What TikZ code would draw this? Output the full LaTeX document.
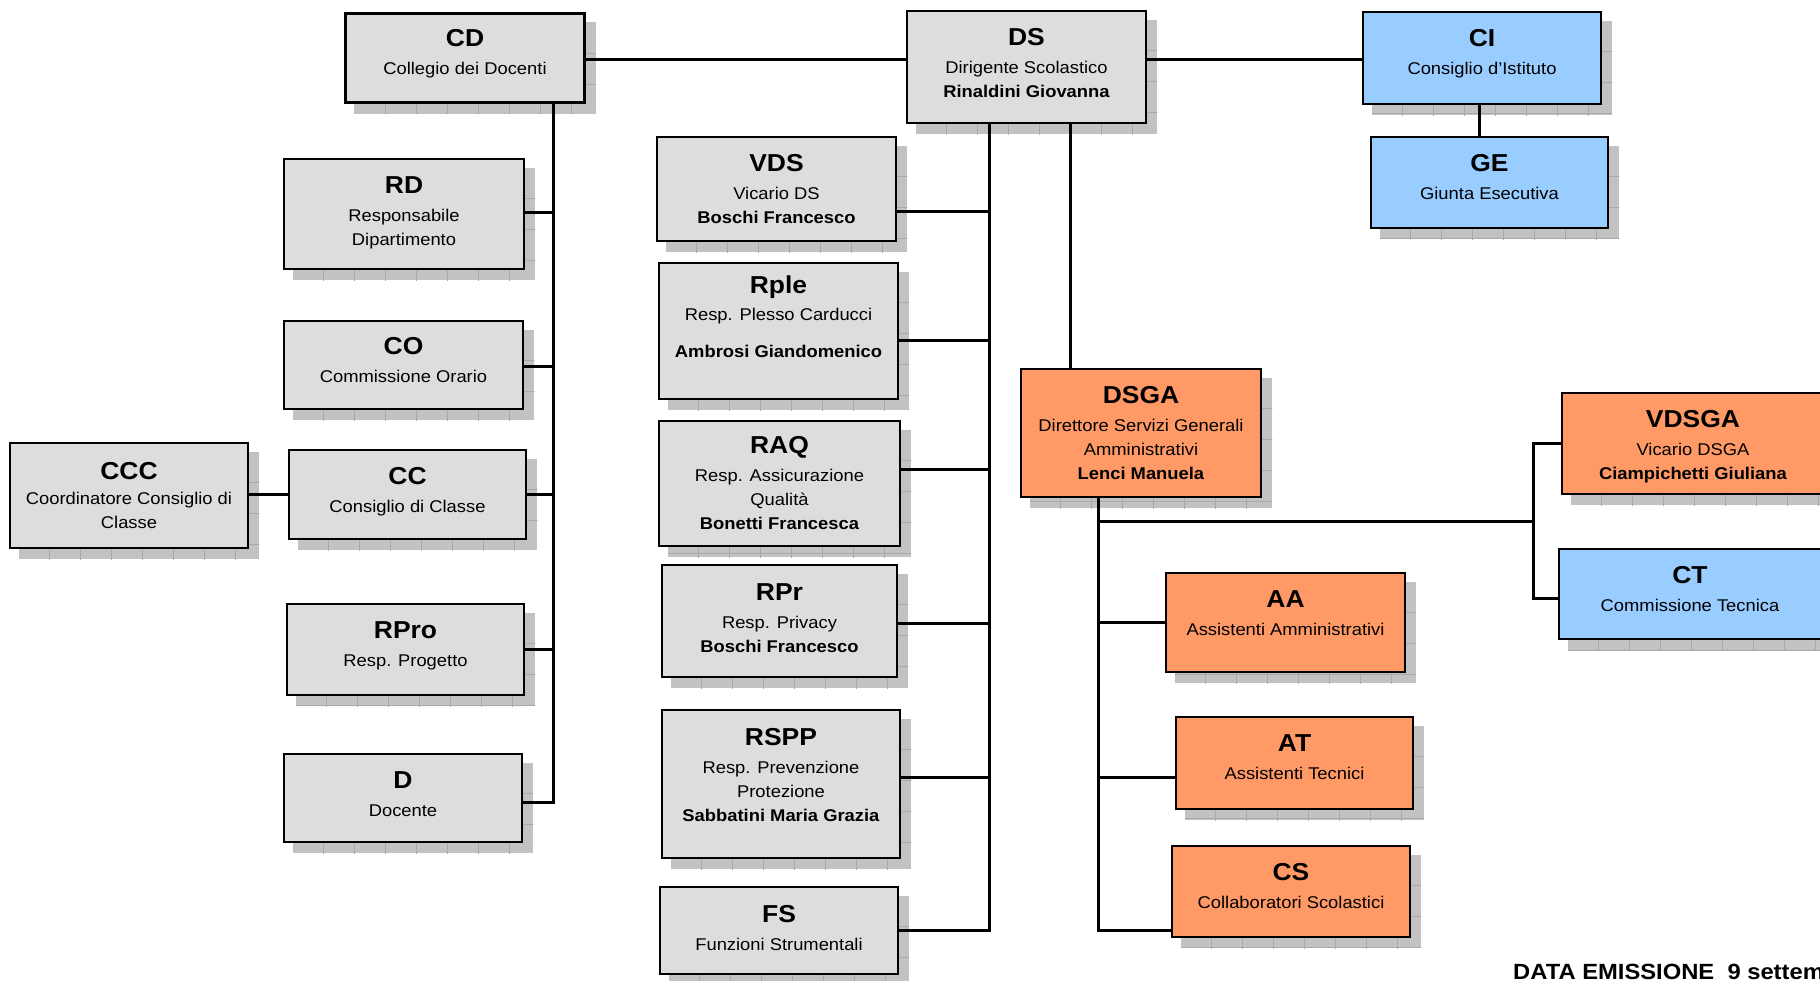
\documentclass[tikz,border=0pt]{standalone}
\usepackage{fontspec}
\setmainfont{Liberation Sans}[FakeStretch=1.08]
\pgfdeclarelayer{bg}
\pgfsetlayers{bg,main}
\definecolor{boxgray}{HTML}{DDDDDD}
\definecolor{boxblue}{HTML}{99CCFF}
\definecolor{boxorange}{HTML}{FF9966}
\definecolor{shadowfill}{HTML}{C2C2C2}
\definecolor{shadowline}{HTML}{A9A9A9}
\newcommand{\orgttl}[2][4pt]{{\fontsize{24.5}{24}\selectfont\bfseries #2}\\[#1]}
\newcommand{\orgend}[1]{\\[#1pt]\mbox{}}
\newcommand{\orgtop}[1]{\mbox{}\\[#1pt]}
\begin{document}
\begin{tikzpicture}[x=1pt,y=-1pt,
  orgbox/.style={draw=black, line width=2.5pt, inner sep=0pt, align=center,
    font=\fontsize{17}{24}\selectfont, text=black},
  graybox/.style={orgbox, fill=boxgray},
  bluebox/.style={orgbox, fill=boxblue},
  orangebox/.style={orgbox, fill=boxorange},
  conn/.style={draw=black, line width=3pt, line cap=rect},
  shadowgrid/.style={draw=shadowline, line width=0.8pt}]
\useasboundingbox (0,0) rectangle (1820,981);

% ---- top row
\node[graybox, minimum width=239pt, minimum height=89pt] (CD) at (465,58) {\orgttl{CD}Collegio dei Docenti\orgend{-11.4}};
\node[graybox, minimum width=239pt, minimum height=112pt] (DS) at (1026.5,67) {\orgttl{DS}Dirigente Scolastico\\\textbf{Rinaldini Giovanna}\orgend{-15}};
\node[bluebox, minimum width=238pt, minimum height=92pt] (CI) at (1482,58) {\orgttl{CI}Consiglio d’Istituto\orgend{-11.8}};
\node[bluebox, minimum width=237pt, minimum height=91pt] (GE) at (1489.5,182.5) {\orgttl{GE}Giunta Esecutiva\orgend{-12.8}};

% ---- left column
\node[graybox, minimum width=240pt, minimum height=110pt] (RD) at (404,214) {\orgttl{RD}Responsabile\\Dipartimento\orgend{-18.5}};
\node[graybox, minimum width=239pt, minimum height=88pt] (CO) at (403.5,365) {\orgttl{CO}Commissione Orario\orgend{-13.4}};
\node[graybox, minimum width=237pt, minimum height=89pt] (CC) at (407.5,494.5) {\orgttl{CC}Consiglio di Classe\orgend{-14.4}};
\node[graybox, minimum width=238pt, minimum height=105pt] (CCC) at (129,495.5) {\orgttl[1pt]{CCC}Coordinatore Consiglio di\\Classe};
\node[graybox, minimum width=237pt, minimum height=91pt] (RPro) at (405.5,649.5) {\orgttl{RPro}Resp. Progetto\orgend{-14}};
\node[graybox, minimum width=238pt, minimum height=88pt] (D) at (403,798) {\orgttl{D}Docente\orgend{-16.4}};

% ---- middle column
\node[graybox, minimum width=239pt, minimum height=104pt] (VDS) at (776.5,189) {\orgttl{VDS}Vicario DS\\\textbf{Boschi Francesco}};
\node[graybox, minimum width=239pt, minimum height=136pt] (Rple) at (778.5,331) {\orgttl[3pt]{Rple}Resp. Plesso Carducci\\[13pt]\textbf{Ambrosi Giandomenico}\orgend{5}};
\node[graybox, minimum width=241pt, minimum height=125pt] (RAQ) at (779.5,483.5) {\orgttl{RAQ}Resp. Assicurazione\\Qualità\\\textbf{Bonetti Francesca}};
\node[graybox, minimum width=235pt, minimum height=112pt] (RPr) at (779.5,621) {\orgttl{RPr}Resp. Privacy\\\textbf{Boschi Francesco}\orgend{-17.4}};
\node[graybox, minimum width=238pt, minimum height=148pt] (RSPP) at (781,784) {\orgttl{RSPP}Resp. Prevenzione\\Protezione\\\textbf{Sabbatini Maria Grazia}\orgend{-5.4}};
\node[graybox, minimum width=238pt, minimum height=87pt] (FS) at (779,930.5) {\orgttl{FS}Funzioni Strumentali\orgend{-19.4}};

% ---- right part
\node[orangebox, minimum width=240pt, minimum height=128pt] (DSGA) at (1141,433) {\orgttl{DSGA}Direttore Servizi Generali\\Amministrativi\\\textbf{Lenci Manuela}};
\node[orangebox, minimum width=262pt, minimum height=101pt] (VDSGA) at (1693,443.5) {\orgtop{-0.4}\orgttl{VDSGA}Vicario DSGA\\\textbf{Ciampichetti Giuliana}};
\node[bluebox, minimum width=262pt, minimum height=90pt] (CT) at (1690,594) {\orgttl{CT}Commissione Tecnica\orgend{-13.4}};
\node[orangebox, minimum width=239pt, minimum height=99pt] (AA) at (1285.5,622.5) {\orgttl{AA}Assistenti Amministrativi\orgend{-5.8}};
\node[orangebox, minimum width=237pt, minimum height=92pt] (AT) at (1294.5,763) {\orgttl{AT}Assistenti Tecnici\orgend{-11.8}};
\node[orangebox, minimum width=238pt, minimum height=91pt] (CS) at (1291,891.5) {\orgttl{CS}Collaboratori Scolastici\orgend{-12.4}};

\node[anchor=base west, inner sep=0pt, font=\fontsize{22}{22}\selectfont\bfseries] (date) at (1513,979) {DATA EMISSIONE\ \ 9 settembre};

% ---- shadows
\begin{pgfonlayer}{bg}
\foreach \n in {CD,DS,CI,GE,RD,CO,CC,CCC,RPro,D,VDS,Rple,RAQ,RPr,RSPP,FS,DSGA,VDSGA,CT,AA,AT,CS}{
  \path ([shift={(10,10)}]\n.north west) coordinate (s1)
        ([shift={(10,10)}]\n.south east) coordinate (s2);
  \fill[shadowfill] (s1) rectangle (s2);
  \begin{scope}
    \clip (s1) rectangle (s2);
    \foreach \k in {1,...,9} \draw[shadowgrid] ([xshift=\k*31pt]s1) -- ++(0,200);
    \foreach \k in {1,...,5} \draw[shadowgrid] ([yshift=-\k*31pt]s1) -- ++(300,0);
  \end{scope}
}
\end{pgfonlayer}

% ---- bus coordinates
\coordinate (ytop) at (0,60);
\coordinate (cdbus) at (553,0);
\coordinate (dsbusL) at (989,0);
\coordinate (dsbusR) at (1070,0);
\coordinate (cige) at (1479,0);
\coordinate (dsgabus) at (1098,0);
\coordinate (rjoin) at (1533,521);

% ---- connectors
\draw[conn] (CD.east |- ytop) -- (DS.west |- ytop);
\draw[conn] (DS.east |- ytop) -- (CI.west |- ytop);
\draw[conn] (CI.south -| cige) -- (GE.north -| cige);

% CD bus
\draw[conn] (CD.south -| cdbus) -- ([yshift=-4pt]D.east -| cdbus) -- ([yshift=-4pt]D.east);
\draw[conn] ([yshift=1pt]RD.east) -- ([yshift=1pt]RD.east -| cdbus);
\draw[conn] ([yshift=-2pt]CO.east) -- ([yshift=-2pt]CO.east -| cdbus);
\draw[conn] (CC.east) -- (CC.east -| cdbus);
\draw[conn] (RPro.east) -- (RPro.east -| cdbus);
\draw[conn] (CCC.east |- CC.west) -- (CC.west);

% DS left bus
\draw[conn] (DS.south -| dsbusL) -- (FS.east -| dsbusL) -- (FS.east);
\draw[conn] ([yshift=-23pt]VDS.east) -- ([yshift=-23pt]VDS.east -| dsbusL);
\draw[conn] ([yshift=-10pt]Rple.east) -- ([yshift=-10pt]Rple.east -| dsbusL);
\draw[conn] ([yshift=14.5pt]RAQ.east) -- ([yshift=14.5pt]RAQ.east -| dsbusL);
\draw[conn] ([yshift=-2pt]RPr.east) -- ([yshift=-2pt]RPr.east -| dsbusL);
\draw[conn] ([yshift=7pt]RSPP.east) -- ([yshift=7pt]RSPP.east -| dsbusL);

% DS to DSGA
\draw[conn] (DS.south -| dsbusR) -- (DSGA.north -| dsbusR);

% DSGA bus
\draw[conn] (DSGA.south -| dsgabus) -- ([yshift=-38.5pt]CS.west -| dsgabus) -- ([yshift=-38.5pt]CS.west);
\draw[conn] (AA.west -| dsgabus) -- (AA.west);
\draw[conn] ([yshift=-14pt]AT.west -| dsgabus) -- ([yshift=-14pt]AT.west);
\draw[conn] (rjoin -| dsgabus) -- (rjoin);
\draw[conn] (VDSGA.west) -- (VDSGA.west -| rjoin) -- ([yshift=-4pt]CT.west -| rjoin) -- ([yshift=-4pt]CT.west);
\end{tikzpicture}
\end{document}
